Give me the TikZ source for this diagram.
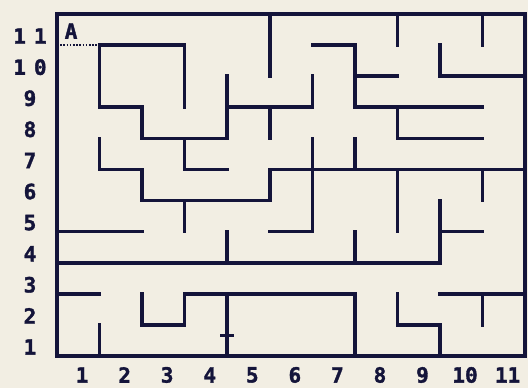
\documentclass[tikz,border=0pt]{standalone}
\usepackage{fontspec}
\newfontfamily\mazefont{DejaVu Sans Mono Bold}[FakeBold=1.6]
\definecolor{paper}{RGB}{242,238,227}
\definecolor{ink}{RGB}{20,20,58}

\begin{document}
\begin{tikzpicture}[x=42.55pt, y=31.09pt,
	wall/.style={ink, line width=3.6pt, line cap=rect},
	lbl/.style={ink, inner sep=0pt, font=\mazefont\fontsize{21}{21}\selectfont}]
	\fill[paper] (-57pt,-32pt) rectangle (471pt,356pt);
	\useasboundingbox (-57pt,-32pt) rectangle (471pt,356pt);
	% frame and entrance
	\draw[wall, line width=4pt] (0,0) rectangle (11,11);
	\draw[ink, line width=2.4pt, dash pattern=on 1.6pt off 1.6pt] (0,10) -- (1,10);
	\node[lbl] (start) at (0.33,10.45) {A};
	% walls, top part
	\draw[wall] (1,10) -- (3,10) -- (3,8);
	\draw[wall] (1,10) -- (1,8) -- (2,8) -- (2,7) -- (4,7) -- (4,9);
	\draw[wall] (4,8) -- (6,8) -- (6,9);
	\draw[wall] (5,11) -- (5,9);
	\draw[wall] (5,8) -- (5,7);
	\draw[wall] (6,10) -- (7,10) -- (7,8) -- (10,8);
	\draw[wall] (7,9) -- (8,9);
	\draw[wall] (8,11) -- (8,10);
	\draw[wall] (10,11) -- (10,10);
	\draw[wall] (9,10) -- (9,9) -- (11,9);
	\draw[wall] (8,8) -- (8,7) -- (10,7);
	% walls, middle part
	\draw[wall] (6,7) -- (6,4) -- (5,4);
	\draw[wall] (7,7) -- (7,6);
	\draw[wall] (11,6) -- (5,6) -- (5,5) -- (2,5) -- (2,6) -- (1,6) -- (1,7);
	\draw[wall] (3,7) -- (3,6) -- (4,6);
	\draw[wall] (3,5) -- (3,4);
	\draw[wall] (0,4) -- (2,4);
	\draw[wall] (4,4) -- (4,3);
	\draw[wall] (0,3) -- (9,3) -- (9,5);
	\draw[wall] (9,4) -- (10,4);
	\draw[wall] (8,6) -- (8,4);
	\draw[wall] (10,6) -- (10,5);
	\draw[wall] (7,4) -- (7,3);
	% walls, bottom part
	\draw[wall] (0,2) -- (1,2);
	\draw[wall] (2,2) -- (2,1) -- (3,1) -- (3,2) -- (7,2) -- (7,0);
	\draw[wall] (4,2) -- (4,0);
	\draw[wall, line width=3pt, line cap=butt] ([xshift=-7pt]4,0.645) -- ([xshift=7pt]4,0.645);
	\draw[wall] (1,1) -- (1,0);
	\draw[wall] (8,2) -- (8,1) -- (9,1) -- (9,0);
	\draw[wall] (9,2) -- (11,2);
	\draw[wall] (10,2) -- (10,1);
	% labels
	\foreach \k in {1,...,9}
		\node[lbl] (r\k) at (-0.635,\k-0.71) {\k};
	\node[lbl] (r10) at (-0.635,9.29) {1\hspace{8pt}0};
	\node[lbl] (r11) at (-0.635,10.29) {1\hspace{8pt}1};
	\foreach \k in {1,...,11}
		\node[lbl] (c\k) at (\k-0.41,-0.61) {\k};
\end{tikzpicture}
\end{document}
